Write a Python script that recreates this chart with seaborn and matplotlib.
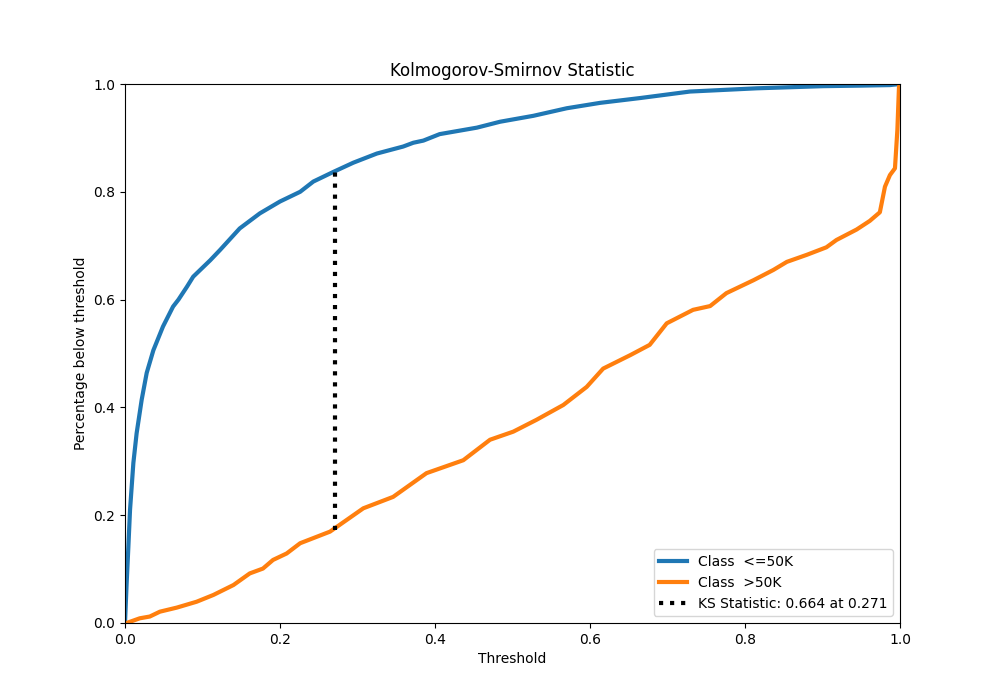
import matplotlib
matplotlib.use("Agg")
import matplotlib.pyplot as plt
import seaborn as sns
import pandas as pd

# Thresholds and cumulative fractions
thr_neg = [0.0, 0.002, 0.0043, 0.0065, 0.0108, 0.015, 0.0215, 0.028, 0.0366, 0.049, 0.062,
           0.069, 0.080, 0.088, 0.110, 0.1226, 0.148, 0.174, 0.200, 0.226, 0.243, 0.269,
           0.2946, 0.325, 0.359, 0.372, 0.385, 0.406, 0.454, 0.484, 0.527, 0.570, 0.613,
           0.665, 0.729, 0.815, 0.901, 0.950, 0.987, 1.0]
pct_neg = [0.0, 0.07, 0.14, 0.21, 0.297, 0.352, 0.414, 0.464, 0.506, 0.550, 0.587,
           0.600, 0.624, 0.6425, 0.673, 0.692, 0.732, 0.760, 0.782, 0.800, 0.819, 0.837,
           0.854, 0.871, 0.884, 0.891, 0.895, 0.907, 0.919, 0.930, 0.941, 0.955, 0.965,
           0.974, 0.986, 0.992, 0.996, 0.997, 0.998, 1.0]

thr_pos = [0.0, 0.002, 0.019, 0.032, 0.045, 0.0667, 0.0925, 0.114, 0.140, 0.161, 0.178,
           0.191, 0.2086, 0.226, 0.2645, 0.3075, 0.346, 0.389, 0.4365, 0.471, 0.501,
           0.531, 0.5656, 0.5957, 0.617, 0.652, 0.677, 0.699, 0.733, 0.755, 0.776, 0.811,
           0.8366, 0.854, 0.8796, 0.905, 0.918, 0.944, 0.961, 0.974, 0.9806, 0.987,
           0.9935, 0.9966, 0.9987, 1.0]
pct_pos = [0.0, 0.0, 0.0087, 0.012, 0.021, 0.0285, 0.0395, 0.052, 0.0705, 0.092, 0.101,
           0.117, 0.129, 0.148, 0.1695, 0.2128, 0.234, 0.278, 0.302, 0.340, 0.355,
           0.377, 0.4045, 0.438, 0.472, 0.497, 0.516, 0.556, 0.581, 0.588, 0.612, 0.636,
           0.655, 0.670, 0.683, 0.697, 0.7106, 0.730, 0.746, 0.762, 0.8095, 0.831,
           0.8436, 0.9146, 0.995, 1.0]

class_labels = ["Class  <=50K", "Class  >50K"]
ks_stat = 0.664
ks_threshold = 0.271
ks_low = 0.173
ks_high = 0.837

df = pd.concat([
    pd.DataFrame({"Threshold": thr_neg, "pct": pct_neg, "cls": class_labels[0]}),
    pd.DataFrame({"Threshold": thr_pos, "pct": pct_pos, "cls": class_labels[1]}),
])

fig, ax = plt.subplots(figsize=(10, 7), dpi=100)
sns.lineplot(data=df, x="Threshold", y="pct", hue="cls", ax=ax, lw=3,
             palette=["#1f77b4", "#ff7f0e"], sort=False, estimator=None)
ax.axvline(ks_threshold, ks_low, ks_high, linestyle=":", lw=3, color="black",
           label="KS Statistic: {:.3f} at {:.3f}".format(ks_stat, ks_threshold))
ax.set_xlim(0.0, 1.0)
ax.set_ylim(0.0, 1.0)
ax.set_title("Kolmogorov-Smirnov Statistic", fontsize="large")
ax.set_xlabel("Threshold", fontsize="medium")
ax.set_ylabel("Percentage below threshold", fontsize="medium")
ax.tick_params(labelsize="medium")
ax.legend(loc="lower right", fontsize="medium")
fig.savefig("out.png", dpi=100)
